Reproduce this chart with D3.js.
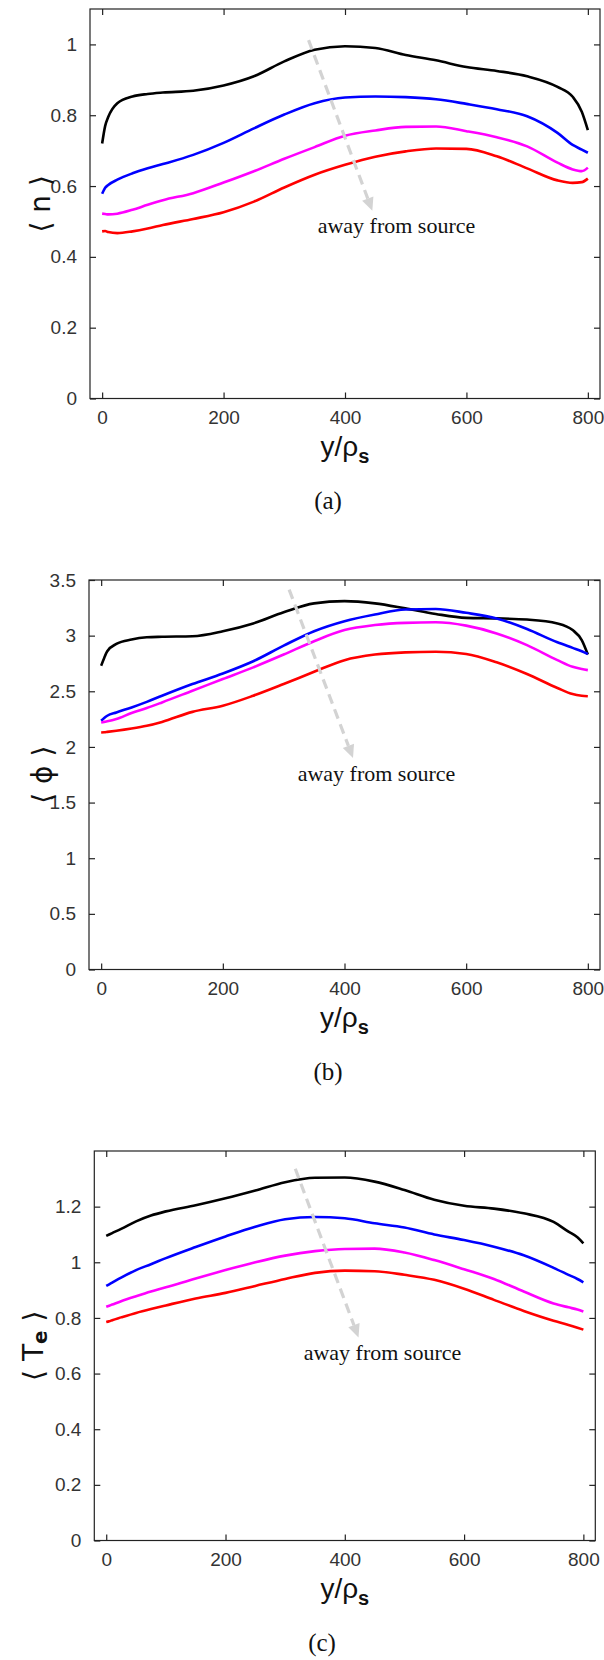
<!DOCTYPE html>
<html><head><meta charset="utf-8">
<script src="https://cdn.jsdelivr.net/npm/d3@7"></script>
<style>body{margin:0;background:#fff} svg{display:block}</style>
</head><body><svg id="c" width="604" height="1660"></svg>
<script>
const xGrid=[0,5,10,25,50,75,100,150,200,250,300,350,400,450,500,550,600,650,700,750,775,790,800];
const xTicks=[0,200,400,600,800];
// panel (a) <n>
const nBlack=[0.72,0.77,0.795,0.834,0.853,0.860,0.864,0.869,0.884,0.910,0.952,0.985,0.995,0.99,0.970,0.955,0.936,0.925,0.910,0.880,0.852,0.81,0.758];
const nBlue=[0.578,0.595,0.603,0.618,0.636,0.650,0.662,0.688,0.722,0.763,0.802,0.834,0.850,0.853,0.851,0.845,0.832,0.817,0.797,0.750,0.716,0.703,0.694];
const nMagenta=[0.522,0.521,0.520,0.522,0.533,0.547,0.560,0.580,0.610,0.642,0.677,0.710,0.742,0.757,0.767,0.768,0.755,0.738,0.712,0.666,0.647,0.642,0.652];
const nRed=[0.472,0.473,0.470,0.467,0.472,0.480,0.490,0.507,0.526,0.556,0.596,0.632,0.660,0.683,0.698,0.706,0.705,0.684,0.650,0.616,0.609,0.611,0.621];
const nTicks=[0,0.2,0.4,0.6,0.8,1];
// panel (b) <phi>
const phiBlack=[2.73,2.80,2.86,2.925,2.965,2.985,2.99,2.995,3.04,3.11,3.21,3.29,3.31,3.29,3.245,3.195,3.16,3.155,3.145,3.11,3.05,2.96,2.83];
const phiBlue=[2.235,2.26,2.28,2.31,2.355,2.405,2.46,2.565,2.66,2.77,2.91,3.04,3.13,3.19,3.235,3.24,3.205,3.155,3.06,2.94,2.89,2.86,2.835];
const phiMagenta=[2.22,2.225,2.23,2.25,2.305,2.35,2.40,2.505,2.61,2.715,2.83,2.95,3.05,3.095,3.115,3.12,3.09,3.02,2.915,2.78,2.72,2.70,2.69];
const phiRed=[2.13,2.132,2.135,2.145,2.165,2.19,2.225,2.315,2.37,2.46,2.565,2.675,2.78,2.83,2.85,2.855,2.835,2.76,2.655,2.53,2.475,2.46,2.455];
const phiTicks=[0,0.5,1,1.5,2,2.5,3,3.5];
// panel (c) <Te>
const teBlack=[1.095,1.10,1.105,1.12,1.147,1.168,1.183,1.205,1.23,1.258,1.288,1.304,1.305,1.29,1.26,1.225,1.203,1.193,1.176,1.145,1.11,1.09,1.068];
const teBlue=[0.915,0.921,0.927,0.945,0.972,0.993,1.015,1.055,1.093,1.128,1.155,1.163,1.158,1.14,1.125,1.10,1.08,1.056,1.025,0.98,0.955,0.94,0.928];
const teMagenta=[0.84,0.844,0.848,0.86,0.878,0.895,0.91,0.942,0.972,1.0,1.024,1.04,1.048,1.049,1.035,1.008,0.975,0.94,0.895,0.852,0.838,0.83,0.823];
const teRed=[0.785,0.788,0.792,0.802,0.818,0.832,0.845,0.87,0.89,0.915,0.94,0.962,0.97,0.968,0.955,0.937,0.905,0.865,0.825,0.79,0.775,0.765,0.758];
const teTicks=[0,0.2,0.4,0.6,0.8,1,1.2];

const colors=["#000000","#0000ff","#ff00ff","#ff0000"];
const panels=[
 {series:[nBlack,nBlue,nMagenta,nRed],ymax:1.1,ticks:nTicks,box:[90,600,9,398.5],ylab:"n",sub:null,
  arrow:[[340,1.012],[445,0.53]],note:[355,0.467],cap:"(a)",capx:328,ylx:40},
 {series:[phiBlack,phiBlue,phiMagenta,phiRed],ymax:3.5,ticks:phiTicks,box:[89,600,580,969.5],ylab:"ϕ",sub:null,
  arrow:[[309,3.414],[414,1.90]],note:[323,1.694],cap:"(b)",capx:328,ylx:42},
 {series:[teBlack,teBlue,teMagenta,teRed],ymax:1.4,ticks:teTicks,box:[94.3,595.3,1151,1540.5],ylab:"T",sub:"e",
  arrow:[[317,1.336],[423,0.73]],note:[331,0.647],cap:"(c)",capx:322,ylx:33}
];
const svg=d3.select("#c");
const fmt=d=>String(d);
panels.forEach(p=>{
  const [L,R,T,B]=p.box;
  const x=d3.scaleLinear().domain([-20,820]).range([L,R]);
  const y=d3.scaleLinear().domain([0,p.ymax]).range([B,T]);
  const g=svg.append("g");
  // frame
  g.append("rect").attr("x",L).attr("y",T).attr("width",R-L).attr("height",B-T)
   .attr("fill","none").attr("stroke","#222").attr("stroke-width",1.2);
  const tl=6;
  const axStyle=sel=>{sel.select(".domain").remove();
    sel.selectAll(".tick line").attr("stroke","#222").attr("stroke-width",1.2);
    sel.selectAll(".tick text").attr("fill","#333").attr("font-family","Liberation Sans, Arial, sans-serif").attr("font-size",19);};
  g.append("g").attr("transform",`translate(0,${B})`)
   .call(d3.axisBottom(x).tickValues(xTicks).tickSize(-tl).tickPadding(12).tickFormat(fmt)).call(axStyle);
  g.append("g").attr("transform",`translate(0,${T})`)
   .call(d3.axisTop(x).tickValues(xTicks).tickSize(-tl).tickFormat("")).call(axStyle);
  g.append("g").attr("transform",`translate(${L},0)`)
   .call(d3.axisLeft(y).tickValues(p.ticks).tickSize(-tl).tickPadding(13).tickFormat(fmt)).call(axStyle);
  g.append("g").attr("transform",`translate(${R},0)`)
   .call(d3.axisRight(y).tickValues(p.ticks).tickSize(-tl).tickFormat("")).call(axStyle);
  // lines
  const line=d3.line().x((d,i)=>x(xGrid[i])).y(d=>y(d)).curve(d3.curveMonotoneX);
  p.series.forEach((s,i)=>{
    g.append("path").datum(s).attr("d",line).attr("fill","none")
     .attr("stroke",colors[i]).attr("stroke-width",2.6).attr("stroke-linejoin","round");
  });
  // arrow
  const [a0,a1]=p.arrow;
  const x0=x(a0[0]),y0=y(a0[1]),x1=x(a1[0]),y1=y(a1[1]);
  const ang=Math.atan2(y1-y0,x1-x0);
  const hl=13,hw=6;
  const bx=x1-hl*Math.cos(ang),by=y1-hl*Math.sin(ang);
  g.append("line").attr("x1",x0).attr("y1",y0).attr("x2",bx).attr("y2",by)
   .attr("stroke","#d3d3d3").attr("stroke-width",3.2).attr("stroke-dasharray","10,6");
  g.append("polygon").attr("points",[[x1,y1],[bx+hw*Math.sin(ang),by-hw*Math.cos(ang)],[bx-hw*Math.sin(ang),by+hw*Math.cos(ang)]].map(q=>q.join(",")).join(" "))
   .attr("fill","#d3d3d3");
  g.append("text").attr("x",x(p.note[0])).attr("y",y(p.note[1]))
   .attr("font-family","Liberation Serif, Times New Roman, serif").attr("font-size",22).attr("fill","#111")
   .text("away from source");
  // x label
  const xl=g.append("text").attr("x",(L+R)/2).attr("y",B+57).attr("text-anchor","middle")
   .attr("font-family","Liberation Sans, Arial, sans-serif").attr("font-size",28).attr("fill","#111");
  xl.append("tspan").text("y/ρ");
  xl.append("tspan").attr("font-size",20).attr("font-weight","bold").attr("dy",7).text("s");
  // y label
  const yl=g.append("text").attr("transform",`translate(${p.ylx},${(T+B)/2}) rotate(-90)`)
   .attr("text-anchor","middle").attr("dominant-baseline","central")
   .attr("font-family","DejaVu Sans, sans-serif").attr("font-size",28).attr("fill","#111");
  yl.append("tspan").text("⟨ "+p.ylab);
  if(p.sub){yl.append("tspan").attr("font-size",20).attr("font-weight","bold").attr("dy",7).text(p.sub);
    yl.append("tspan").attr("dy",-7).text(" ⟩");}
  else yl.append("tspan").text(" ⟩");
  // caption
  g.append("text").attr("x",p.capx).attr("y",B+110).attr("text-anchor","middle")
   .attr("font-family","Liberation Serif, Times New Roman, serif").attr("font-size",25).attr("fill","#111")
   .text(p.cap);
});
</script></body></html>
